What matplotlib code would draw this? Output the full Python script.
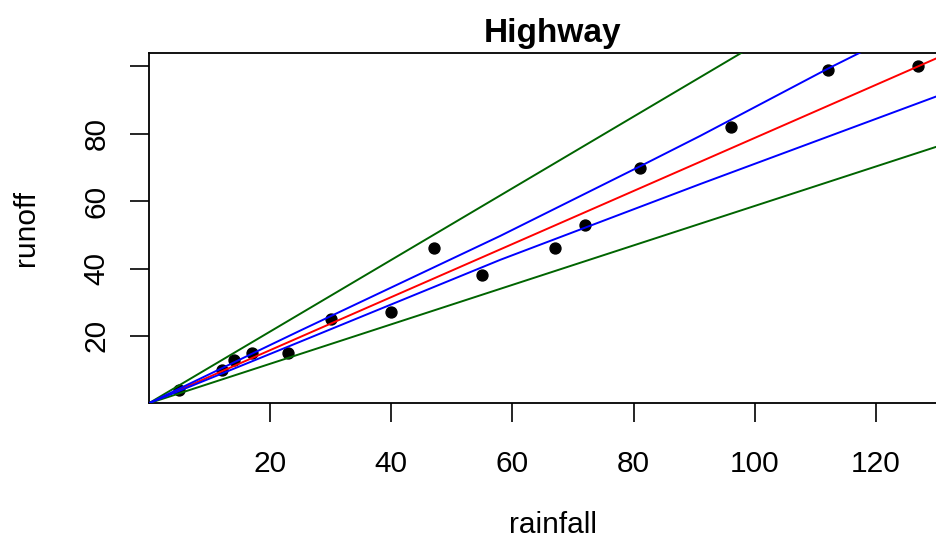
import matplotlib
matplotlib.use("Agg")
import matplotlib.pyplot as plt
import numpy as np

plt.rcParams["font.family"] = ["Liberation Sans", "DejaVu Sans"]

# highway catchment: rainfall vs runoff
rainfall = [5, 12, 14, 17, 23, 30, 40, 47, 55, 67, 72, 81, 96, 112, 127]
runoff = [4, 10, 13, 15, 15, 25, 27, 46, 38, 46, 53, 70, 82, 99, 100]

# fitted line through the origin and outer limits (slopes)
fit_slope = 0.788
outer_hi_slope = 1.064
outer_lo_slope = 0.586

# inner band, read at a few rainfall values
band_hi_x = [0, 25, 58, 81, 91, 112, 134]
band_hi_y = [0, 21.6, 49.7, 70.3, 79.4, 99.3, 119.0]
band_lo_x = [0, 25, 58, 91, 134]
band_lo_y = [0, 18.3, 42.6, 65.1, 93.8]

xlim = (0, 133.3)
ylim = (0, 104.0)
xticks = [20, 40, 60, 80, 100, 120]
yticks = [20, 40, 60, 80, 100]
yticklabels = ["20", "40", "60", "80", ""]

W, H = 936, 542
fig = plt.figure(figsize=(W / 100, H / 100), dpi=100)
left, right, top, bottom = 148.8, 956.6, 53.0, 403.3
ax = fig.add_axes([left / W, 1 - bottom / H, (right - left) / W, (bottom - top) / H])

ax.scatter(rainfall, runoff, s=62, color="black", zorder=2, clip_on=False)

xs = np.array([0, xlim[1]])
ax.plot(xs, fit_slope * xs, color="red", lw=1.4, zorder=3)
ax.plot(xs, outer_hi_slope * xs, color="darkgreen", lw=1.4, zorder=3)
ax.plot(xs, outer_lo_slope * xs, color="darkgreen", lw=1.4, zorder=3)
ax.plot(band_hi_x, band_hi_y, color="blue", lw=1.4, zorder=3)
ax.plot(band_lo_x, band_lo_y, color="blue", lw=1.4, zorder=3)

ax.set_xlim(*xlim)
ax.set_ylim(*ylim)
ax.set_xticks(xticks)
ax.set_yticks(yticks)
ax.set_yticklabels(yticklabels, rotation=90, va="center")
ax.tick_params(axis="both", length=13.5, width=1.2, labelsize=21.5, color="black")
ax.tick_params(axis="x", pad=20)
ax.tick_params(axis="y", pad=14)
for sp in ax.spines.values():
    sp.set_linewidth(1.3)

ax.set_title("Highway", fontsize=24, fontweight="bold", pad=8)
ax.set_xlabel("rainfall", fontsize=21.5)
ax.set_ylabel("runoff", fontsize=21.5)
ax.xaxis.set_label_coords(0.5, -0.308)
ax.yaxis.set_label_coords(-0.135, 0.5)

fig.savefig("out.png", dpi=100)
